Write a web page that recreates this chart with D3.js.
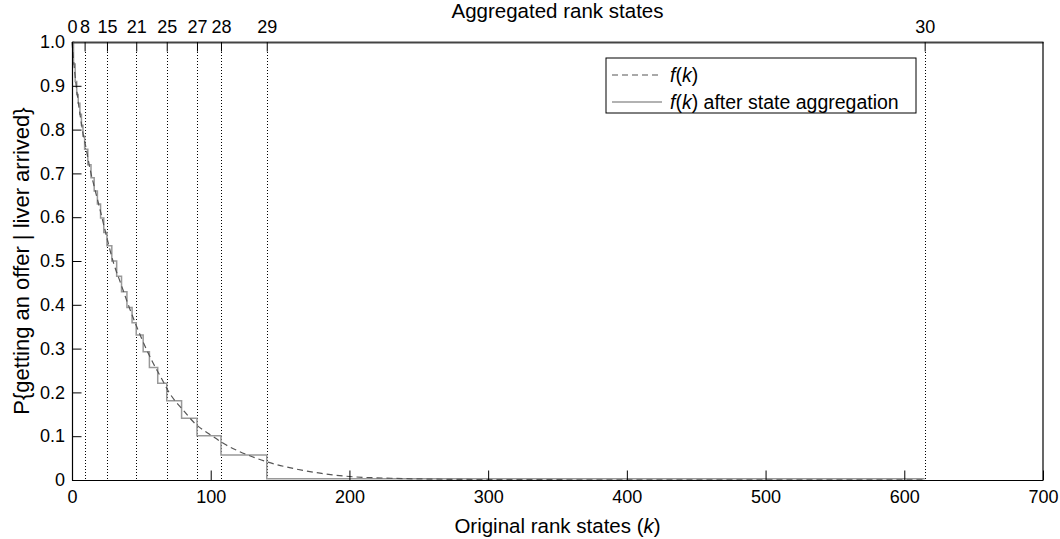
<!DOCTYPE html>
<html>
<head>
<meta charset="utf-8">
<script src="https://cdn.jsdelivr.net/npm/d3@7/dist/d3.min.js"></script>
<style>
  body { margin: 0; background: #fff; }
  svg { display: block; font-family: "Liberation Sans", Arial, Helvetica, sans-serif; }
</style>
</head>
<body>
<svg id="chart" width="1060" height="539"></svg>
<script>
// ---------- data ----------
const xTicks = [0, 100, 200, 300, 400, 500, 600, 700];
const yTicks = [0, 0.1, 0.2, 0.3, 0.4, 0.5, 0.6, 0.7, 0.8, 0.9, 1.0];

// aggregated rank states labelled on the top axis and their original-rank positions
const aggStates = [0, 8, 15, 21, 25, 27, 28, 29, 30];
const aggStateK = [0, 9.1, 25.2, 46.3, 68.3, 90.1, 107.4, 140.4, 614.7];

// f(k) (dashed curve)
const fK   = [0, 2, 4, 6, 8, 10, 13, 16, 20, 25, 30, 35, 40, 46, 52, 58, 64, 70, 80, 90, 100, 110, 120, 130, 140, 160, 180, 200, 230, 260, 300, 400, 500, 614.7];
const fVal = [1.0, 0.93, 0.875, 0.83, 0.79, 0.76, 0.71, 0.67, 0.62, 0.555, 0.495, 0.45, 0.405, 0.355, 0.31, 0.27, 0.235, 0.2, 0.16, 0.125, 0.103, 0.082, 0.066, 0.053, 0.042, 0.026, 0.015, 0.008, 0.004, 0.002, 0.001, 0.0005, 0.0004, 0.0003];

// f(k) after state aggregation: start k of each aggregated state 0..29 (last entry = end), and level
const stepK = [0, 1.1, 2.3, 3.4, 4.5, 5.7, 6.8, 7.9, 9.1, 11.4, 13.7, 16.0, 18.3, 20.6, 22.9, 25.2, 28.7, 32.2, 35.7, 39.6, 43.3, 46.3, 51.3, 55.8, 61.8, 68.3, 79.0, 90.1, 107.4, 140.4, 614.7];
const stepF = [1.0, 0.95, 0.91, 0.88, 0.86, 0.835, 0.81, 0.785, 0.755, 0.72, 0.69, 0.66, 0.63, 0.598, 0.565, 0.535, 0.50, 0.465, 0.43, 0.394, 0.359, 0.331, 0.293, 0.257, 0.221, 0.181, 0.141, 0.101, 0.057, 0.003];

// ---------- layout ----------
const svg = d3.select("#chart");
const L = 72, R = 1043, T = 42, B = 480;
const x = d3.scaleLinear().domain([0, 700]).range([L, R]);
const y = d3.scaleLinear().domain([0, 1]).range([B, T]);
const tickLen = 9.5;
const FONT = "'Liberation Sans', Arial, Helvetica, sans-serif";

svg.append("rect").attr("width", 1060).attr("height", 539).attr("fill", "#fff");

// dotted verticals at aggregated state boundaries
svg.append("g").selectAll("line")
  .data(aggStateK.filter(k => k > 0))
  .join("line")
  .attr("x1", d => Math.round(x(d)) + 0.5).attr("x2", d => Math.round(x(d)) + 0.5)
  .attr("y1", T + tickLen).attr("y2", B)
  .attr("stroke", "#000").attr("stroke-width", 1)
  .attr("stroke-dasharray", "1,2")
  .attr("shape-rendering", "crispEdges");

// series
const fData = fK.map((k, i) => [k, fVal[i]]);
const stepData = stepK.map((k, i) => [k, i < stepF.length ? stepF[i] : stepF[stepF.length - 1]]);

svg.append("path")
  .datum(stepData)
  .attr("fill", "none")
  .attr("stroke", "#999")
  .attr("stroke-width", 1.5)
  .attr("d", d3.line().x(d => x(d[0])).y(d => y(d[1])).curve(d3.curveStepAfter));

svg.append("path")
  .datum(fData)
  .attr("fill", "none")
  .attr("stroke", "#555")
  .attr("stroke-width", 1.2)
  .attr("stroke-dasharray", "6,4")
  .attr("d", d3.line().x(d => x(d[0])).y(d => y(d[1])).curve(d3.curveMonotoneX));

// axes
const fontTick = "18px";
const xAxis = svg.append("g").attr("transform", `translate(0,${B})`)
  .call(d3.axisBottom(x).tickValues(xTicks).tickSizeInner(-tickLen).tickSizeOuter(0).tickPadding(10).tickFormat(d3.format("d")));
const yAxis = svg.append("g").attr("transform", `translate(${L},0)`)
  .call(d3.axisLeft(y).tickValues(yTicks).tickSizeInner(-tickLen).tickSizeOuter(0).tickPadding(7)
    .tickFormat(d => d === 0 ? "0" : d3.format(".1f")(d)));
const topAxis = svg.append("g").attr("transform", `translate(0,${T})`)
  .call(d3.axisTop(x).tickValues(aggStateK).tickSizeInner(-tickLen).tickSizeOuter(0).tickPadding(9)
    .tickFormat((d, i) => aggStates[i]));

[xAxis, yAxis, topAxis].forEach(g => {
  g.selectAll("text").attr("font-size", fontTick).attr("fill", "#000").attr("font-family", FONT);
  g.selectAll("line").attr("stroke", "#000");
  g.select(".domain").attr("stroke", "#000").attr("stroke-width", 1.2);
});
topAxis.select(".domain").attr("stroke", "#444").attr("stroke-width", 1.8);

// right border
svg.append("line").attr("x1", R).attr("x2", R).attr("y1", T).attr("y2", B)
  .attr("stroke", "#000").attr("stroke-width", 1.2);

// titles
const xt = svg.append("text").attr("x", (L + R) / 2).attr("y", 533)
  .attr("text-anchor", "middle").attr("font-size", "20.5px").attr("fill", "#000");
xt.append("tspan").text("Original rank states (");
xt.append("tspan").attr("font-style", "italic").text("k");
xt.append("tspan").text(")");

svg.append("text").attr("x", (L + R) / 2).attr("y", 18)
  .attr("text-anchor", "middle").attr("font-size", "20.5px").attr("fill", "#000")
  .text("Aggregated rank states");

svg.append("text")
  .attr("transform", `translate(29,${(T + B) / 2}) rotate(-90)`)
  .attr("text-anchor", "middle").attr("font-size", "22px").attr("fill", "#000")
  .text("P{getting an offer | liver arrived}");

// legend
const lg = svg.append("g");
lg.append("rect").attr("x", 606).attr("y", 58).attr("width", 310).attr("height", 55)
  .attr("fill", "#fff").attr("stroke", "#000").attr("stroke-width", 1);
const rows = [
  { y: 75, dash: "6,4", color: "#555", w: 1.2, suffix: "" },
  { y: 102, dash: null, color: "#999", w: 1.5, suffix: " after state aggregation" }
];
rows.forEach(r => {
  lg.append("line").attr("x1", 612).attr("x2", 662).attr("y1", r.y).attr("y2", r.y)
    .attr("stroke", r.color).attr("stroke-width", r.w)
    .attr("stroke-dasharray", r.dash);
  const t = lg.append("text").attr("x", 670).attr("y", r.y).attr("dy", "0.35em")
    .attr("font-size", "19.5px").attr("fill", "#000");
  t.append("tspan").attr("font-style", "italic").text("f");
  t.append("tspan").text("(");
  t.append("tspan").attr("font-style", "italic").text("k");
  t.append("tspan").text(")" + r.suffix);
});
</script>
</body>
</html>
